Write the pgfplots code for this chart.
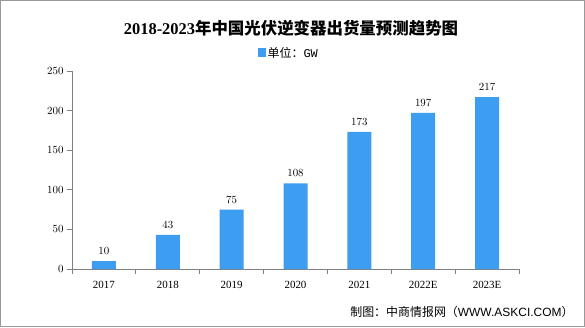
\documentclass[border=0pt]{standalone}
\usepackage{pgfplots}
\pgfplotsset{compat=1.18}
\usepackage{fontspec}
\setmainfont{Liberation Serif}
\newfontfamily\cjk{Noto Sans CJK SC}
\definecolor{barblue}{RGB}{61,157,240}
\definecolor{axgray}{RGB}{128,128,128}
\begin{document}
\begin{tikzpicture}[x=1bp,y=1bp]
\path[draw=axgray!80, line width=1bp, fill=white] (0.5,0.5) rectangle (584.5,326.5);
\node[font=\fontsize{16.5}{18}\selectfont\bfseries] at (291,299) {2018-2023{\cjk 年中国光伏逆变器出货量预测趋势图}};
\node[anchor=east, font=\cjk\fontsize{12}{14}\selectfont] at (577,15) {制图：中商情报网（{\fontspec{Liberation Sans}WWW.ASKCI.COM}）};
\begin{axis}[
  at={(72bp,58bp)}, anchor=south west,
  scale only axis, width=447bp, height=198bp,
  xmin=-0.5, xmax=6.5, ymin=0, ymax=250,
  ytick={0,50,...,250},
  xtick={0,...,6},
  xticklabels={2017,2018,2019,2020,2021,2022E,2023E},
  minor xtick={-0.5,0.5,...,6.5},
  major x tick style={draw=none},
  axis x line*=bottom, axis y line*=left,
  axis line style={axgray, line width=0.8bp, -},
  tick style={axgray, line width=0.8bp},
  tick align=outside,
  major tick length=5bp, minor tick length=5bp,
  ticklabel style={font=\fontsize{11}{12}\selectfont},
  xticklabel style={yshift=-4bp},
  ybar, bar width=24bp,
  nodes near coords,
  every node near coord/.append style={font=\fontsize{11}{12}\selectfont, text=black, yshift=3bp},
  legend style={at={(0.485,1)}, anchor=south, yshift=8bp, draw=none, fill=none,
    font=\cjk\fontsize{12}{14}\selectfont},
  legend image code/.code={\fill[barblue] (0bp,-4bp) rectangle (8bp,5bp);},
]
\addplot[fill=barblue, draw=none] coordinates {(0,10) (1,43) (2,75) (3,108) (4,173) (5,197) (6,217)};
\addlegendentry{单位：{\fontspec{Liberation Mono}GW}}
\end{axis}
\end{tikzpicture}
\end{document}
